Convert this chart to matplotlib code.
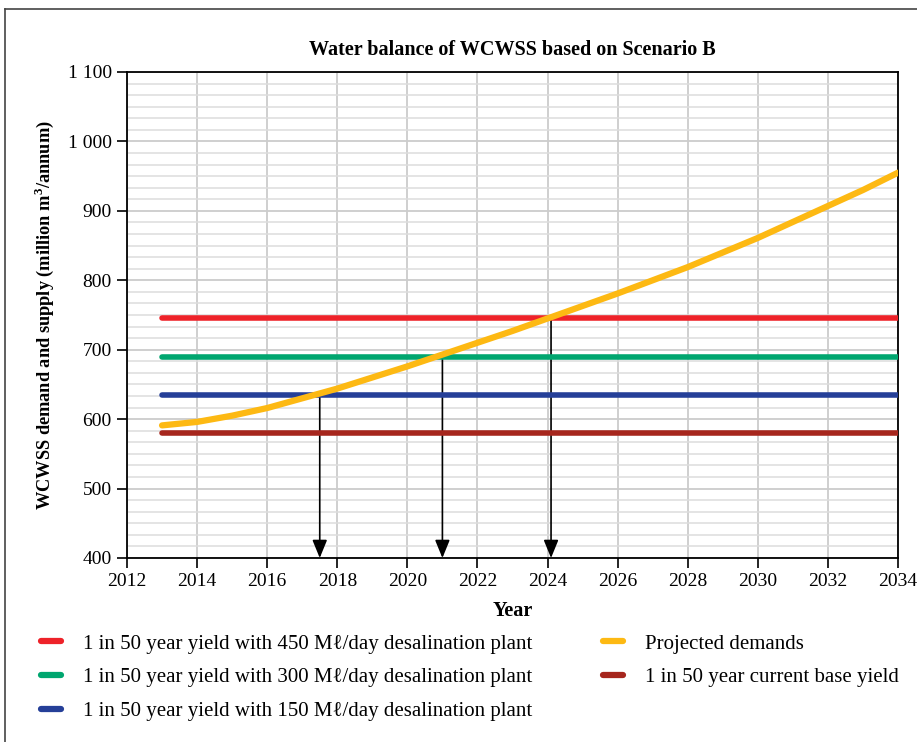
import matplotlib
matplotlib.use("Agg")
import matplotlib.pyplot as plt
from matplotlib.lines import Line2D
from matplotlib.ticker import MultipleLocator, FuncFormatter

plt.rcParams['font.family'] = ['Liberation Serif', 'DejaVu Serif']
plt.rcParams['mathtext.fontset'] = 'custom'
plt.rcParams['mathtext.rm'] = 'Liberation Serif'
plt.rcParams['mathtext.bf'] = 'Liberation Serif:bold'

# ---- data ----
years = [2013, 2014, 2015, 2016, 2017, 2018, 2019, 2020, 2021, 2022, 2023,
         2024, 2025, 2026, 2027, 2028, 2029, 2030, 2031, 2032, 2033, 2034]
demand = [591, 596, 605, 616, 630, 644, 660, 676, 693, 710, 727,
          745, 763, 781, 800, 819, 840, 861, 884, 907, 930, 955]
supply_years = [2013, 2034]
yield_450 = [745, 745]
yield_300 = [690, 690]
yield_150 = [635, 635]
yield_base = [580, 580]
arrow_years = [2017.5, 2021.0, 2024.1]
arrow_levels = [635, 690, 745]

labels = ["1 in 50 year yield with 450 M\u2113/day desalination plant",
          "1 in 50 year yield with 300 M\u2113/day desalination plant",
          "1 in 50 year yield with 150 M\u2113/day desalination plant",
          "Projected demands",
          "1 in 50 year current base yield"]
colors = ["#ee2229", "#00a66f", "#253f98", "#fdb913", "#a6261d"]

W, H = 917, 742
fig = plt.figure(figsize=(W / 100, H / 100), dpi=100)
ax = fig.add_axes([127 / W, 1 - 558 / H, (898 - 127) / W, (558 - 72) / H])

ax.set_xlim(2012, 2034)
ax.set_ylim(400, 1100)
ax.xaxis.set_major_locator(MultipleLocator(2))
ax.yaxis.set_major_locator(MultipleLocator(100))
ax.yaxis.set_minor_locator(MultipleLocator(100 / 6))
ax.yaxis.set_major_formatter(FuncFormatter(lambda v, p: f"{int(v):,}".replace(",", " ")))

ax.grid(True, which='major', axis='both', color='#cccccc', linewidth=1.3, zorder=0)
ax.grid(True, which='minor', axis='y', color='#dddddd', linewidth=1.1, zorder=0)
ax.set_axisbelow(True)
ax.tick_params(axis='both', which='major', direction='out', length=7, width=1.2,
               labelsize=14, colors='black', pad=4)
ax.tick_params(axis='y', which='minor', length=0)
for s in ax.spines.values():
    s.set_linewidth(1.3)
    s.set_color('black')

lw = 4
ax.plot(supply_years, yield_450, color=colors[0], lw=lw, solid_capstyle='round', zorder=3)
ax.plot(supply_years, yield_300, color=colors[1], lw=lw, solid_capstyle='round', zorder=3)
ax.plot(supply_years, yield_150, color=colors[2], lw=lw, solid_capstyle='round', zorder=3)
ax.plot(supply_years, yield_base, color=colors[4], lw=lw, solid_capstyle='round', zorder=3)
ax.plot(years, demand, color=colors[3], lw=4.5, solid_capstyle='round', zorder=4)

for xa, ya in zip(arrow_years, arrow_levels):
    ax.annotate("", xy=(xa, 400), xytext=(xa, ya),
                arrowprops=dict(arrowstyle="-|>,head_length=1.1,head_width=0.45",
                                color='black', lw=1.2, shrinkA=0, shrinkB=0),
                zorder=2)

ax.set_title("Water balance of WCWSS based on Scenario B", fontsize=14.5,
             fontweight='bold', pad=12)
ax.set_xlabel("Year", fontsize=14.5, fontweight='bold', labelpad=8)
ax.set_ylabel("WCWSS demand and supply (million m$^{\\mathbf{3}}$/annum)", fontsize=13.2,
              fontweight='bold', labelpad=8)

handles = [Line2D([], [], color=c, lw=4.5, solid_capstyle='round') for c in colors]
leg_kw = dict(loc='upper left', frameon=False, fontsize=15, handlelength=0.95,
              handletextpad=1.05, labelspacing=0.68, borderaxespad=0, borderpad=0)
fig.legend(handles[:3], labels[:3], bbox_to_anchor=(41 / W, 1 - 634 / H), **leg_kw)
fig.legend(handles[3:], labels[3:], bbox_to_anchor=(603 / W, 1 - 634 / H), **leg_kw)

# outer frame (top and left edges visible)
fig.add_artist(Line2D([5 / W, 1.0], [1 - 9 / H, 1 - 9 / H], color='#444444', lw=1.2,
                      transform=fig.transFigure))
fig.add_artist(Line2D([5 / W, 5 / W], [0, 1 - 9 / H], color='#444444', lw=1.2,
                      transform=fig.transFigure))

fig.savefig("out.png", dpi=100)
